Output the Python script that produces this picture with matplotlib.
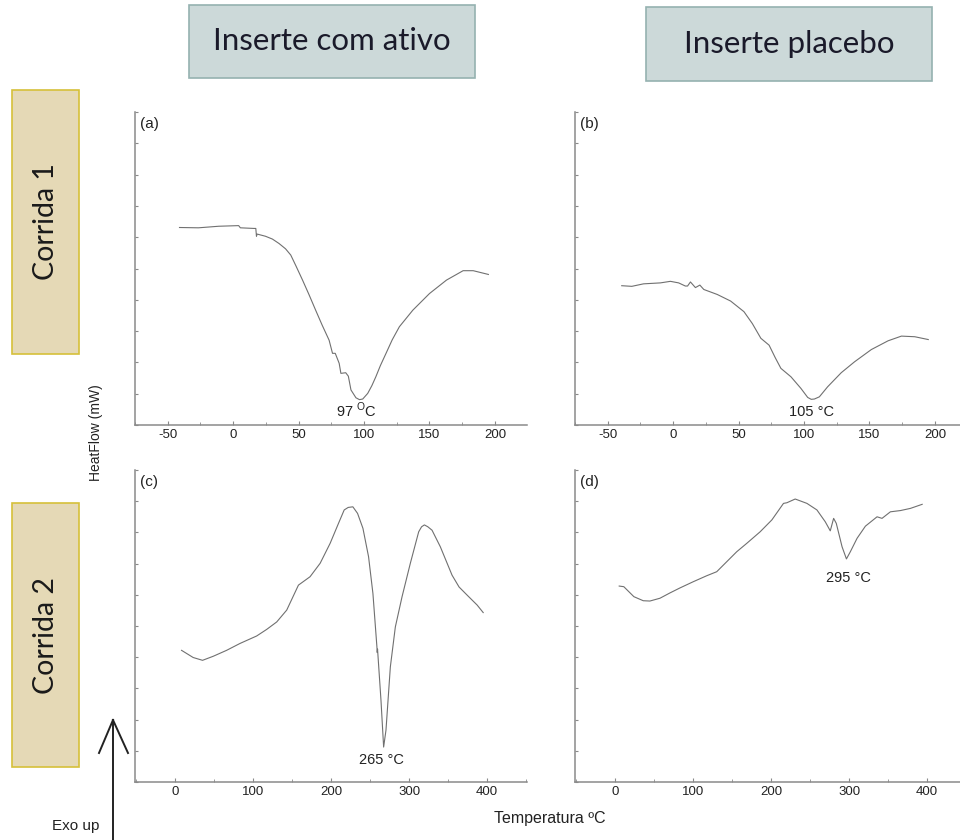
import matplotlib
matplotlib.use("Agg")
import matplotlib.pyplot as plt
from matplotlib.patches import Rectangle
from matplotlib.lines import Line2D
from matplotlib.ticker import MultipleLocator, NullFormatter

plt.rcParams["font.family"] = ["Liberation Sans", "DejaVu Sans"]
plt.rcParams["mathtext.fontset"] = "custom"
plt.rcParams["mathtext.rm"] = "Liberation Sans"
plt.rcParams["axes.unicode_minus"] = False

# (a) Corrida 1, inserte com ativo
a_temp = [-41, -26.5, -11, 4.2, 5.5, 15.8, 17.3, 17.8, 18.3, 24.7, 30, 35, 40, 44,
          48, 53, 58, 63, 68, 73.3, 75.9, 78, 81, 82.3, 86, 88, 90, 93.8, 96.5, 99,
          102.8, 106, 109, 112.5, 116.8, 121.5, 127, 137.3, 150, 163, 175.7, 183.4,
          195]
a_flow = [63.1, 63.0, 63.5, 63.7, 63.0, 62.8, 62.8, 60.3, 61.0, 60.3, 59.4, 58.0,
          56.3, 54.3, 50.8, 46.3, 41.6, 36.7, 31.9, 27.1, 22.9, 22.9, 19.7, 16.5,
          16.7, 15.6, 11.2, 8.7, 8.1, 8.3, 10.1, 12.6, 15.4, 19.0, 22.9, 27.2, 31.4,
          36.7, 42.0, 46.3, 49.3, 49.3, 48.1]

# (b) Corrida 1, inserte placebo
b_temp = [-39.3, -31.6, -22.6, -9.8, -2.1, 4.2, 9.3, 11.0, 13.2, 17, 20.4, 23.4,
          33.7, 43.9, 54.1, 60.5, 67, 73.3, 78, 82.3, 90, 97.6, 102.8, 105.5, 107.9,
          111.7, 118, 128.4, 138.6, 151.4, 164.2, 174.4, 184.6, 194.9]
b_flow = [44.5, 44.3, 45.1, 45.4, 45.9, 45.4, 44.4, 44.4, 45.7, 43.9, 44.7, 43.3,
          41.7, 39.6, 36.2, 32.4, 27.7, 25.5, 21.5, 18.1, 15.4, 11.7, 8.8, 8.2, 8.3,
          9.0, 12.2, 16.7, 20.2, 24.1, 26.9, 28.4, 28.2, 27.3]

# (c) Corrida 2, inserte com ativo
c_temp = [8.6, 23.5, 35.5, 49.2, 66.3, 83.4, 104.8, 117.6, 130.5, 143.3, 158.3,
          173.2, 186.1, 198.9, 209.6, 216.9, 222, 228, 234, 240.9, 248.1, 253.7,
          258.8, 259.2, 259.6, 264, 267.4, 270.4, 276, 282.4, 291, 301.6, 312.3,
          316, 319.6, 324, 329.4, 340, 355, 364, 374.3, 387.2, 394.9]
c_flow = [42.2, 39.9, 39.0, 40.3, 42.2, 44.4, 46.8, 48.9, 51.3, 55.1, 63.1, 65.8,
          70.1, 76.5, 82.9, 87.2, 88.0, 88.2, 86.1, 81.3, 72.2, 60.4, 43.3, 41.5,
          42.6, 26.2, 11.2, 16.6, 36.9, 49.7, 59.4, 70.1, 80.2, 81.8, 82.4, 81.8,
          80.7, 75.4, 66.3, 62.5, 59.9, 56.7, 54.3]

# (d) Corrida 2, inserte placebo
d_temp = [5.6, 11.5, 24.4, 36.4, 44.9, 57.8, 70.6, 83.4, 100.5, 117.6, 130.5,
          143.3, 156.1, 169, 186.1, 201.1, 216, 220.3, 231, 246, 258.8, 269.5,
          275.9, 280.2, 283.6, 291, 296.6, 301.6, 310.2, 320.9, 335.8, 342.2,
          352.9, 365.8, 378.6, 393.6]
d_flow = [62.8, 62.6, 59.4, 58.1, 58.0, 58.9, 60.6, 62.2, 64.2, 66.1, 67.4, 70.6,
          73.8, 76.5, 80.2, 84.0, 89.3, 89.5, 90.7, 89.3, 87.2, 83.4, 80.5, 84.5,
          82.9, 75.4, 71.5, 73.8, 78.1, 82.0, 85.0, 84.5, 86.6, 87.0, 87.7, 89.0]

panels = [
    ("(a)", a_temp, a_flow, "97 $^{\\mathrm{O}}$C", 94.3, 4.8),
    ("(b)", b_temp, b_flow, "105 °C", 105.8, 4.3),
    ("(c)", c_temp, c_flow, "265 °C", 265.2, 7.0),
    ("(d)", d_temp, d_flow, "295 °C", 299.5, 65.5),
]
col_titles = ["Inserte com ativo", "Inserte placebo"]
row_titles = ["Corrida 1", "Corrida 2"]

W, H = 960, 840
fig = plt.figure(figsize=(W / 100, H / 100), dpi=100)


def px_rect(x0, y0, x1, y1):
    # pixel box (top-left origin) -> figure fraction [left, bottom, width, height]
    return [x0 / W, 1 - y1 / H, (x1 - x0) / W, (y1 - y0) / H]


axes_px = [(135, 112, 527, 425), (575, 112, 967, 425),
           (135, 470, 527, 782), (575, 470, 967, 782)]
spine_col = "#8a8a8a"

for i, (box, (lab, xs, ys, note, nx, ny)) in enumerate(zip(axes_px, panels)):
    ax = fig.add_axes(px_rect(*box))
    ax.plot(xs, ys, color="#707070", linewidth=0.8)
    if i < 2:
        ax.set_xlim(-75, 224.5)
        ax.xaxis.set_major_locator(MultipleLocator(50))
        ax.xaxis.set_minor_locator(MultipleLocator(25))
    else:
        ax.set_xlim(-51, 451)
        ax.xaxis.set_major_locator(MultipleLocator(100))
        ax.xaxis.set_minor_locator(MultipleLocator(50))
    ax.set_ylim(0, 100)
    ax.yaxis.set_major_locator(MultipleLocator(10))
    ax.yaxis.set_major_formatter(NullFormatter())
    for s in ("top", "right"):
        ax.spines[s].set_visible(False)
    for s in ("left", "bottom"):
        ax.spines[s].set_color(spine_col)
        ax.spines[s].set_linewidth(1.1)
    ax.tick_params(axis="both", which="both", direction="in", color=spine_col,
                   labelsize=9.5, labelcolor="#222222")
    ax.tick_params(axis="x", which="major", length=3, pad=3)
    ax.tick_params(axis="x", which="minor", length=2)
    ax.tick_params(axis="y", which="major", length=2)
    ax.text(0.012, 0.985, lab, transform=ax.transAxes, ha="left", va="top",
            fontsize=11, color="#222222")
    ax.text(nx, ny, note, ha="center", va="center", fontsize=10.5,
            color="#222222")

# column header boxes
for (x0, y0, x1, y1), title in zip([(189, 5, 475, 78), (646, 7, 932, 81)], col_titles):
    fig.patches.append(Rectangle((x0 / W, 1 - y1 / H), (x1 - x0) / W, (y1 - y0) / H,
                                 transform=fig.transFigure, facecolor="#ccd9d9",
                                 edgecolor="#95b2b0", linewidth=1.2))
    fig.text((x0 + x1) / 2 / W, 1 - (y0 + y1) / 2 / H, title, ha="center",
             va="center", fontsize=22.5, family=["Lato", "DejaVu Sans"],
             color="#1a1a2a")

# row header boxes
for (x0, y0, x1, y1), title in zip([(12, 90, 79, 354), (12, 503, 79, 767)], row_titles):
    fig.patches.append(Rectangle((x0 / W, 1 - y1 / H), (x1 - x0) / W, (y1 - y0) / H,
                                 transform=fig.transFigure, facecolor="#e5d9b6",
                                 edgecolor="#d6c03a", linewidth=1.2))
    fig.text((x0 + x1) / 2 / W, 1 - (y0 + y1) / 2 / H, title, ha="center",
             va="center", rotation=90, fontsize=20.5, family=["Lato", "DejaVu Sans"],
             color="#1a1a1a")

fig.text(96 / W, 1 - 433 / H, "HeatFlow (mW)", rotation=90, ha="center",
         va="center", fontsize=10, color="#222222")
fig.text(550 / W, 1 - 819 / H, "Temperatura ºC", ha="center", va="center",
         fontsize=11.5, color="#222222")
fig.text(76 / W, 1 - 826 / H, "Exo up", ha="center", va="center",
         fontsize=11, color="#222222")

# Exo up arrow
for xa, ya in [([113, 113], [840, 720]), ([99, 113], [753, 720]), ([128, 113], [753, 720])]:
    fig.lines.append(Line2D([v / W for v in xa], [1 - v / H for v in ya],
                            transform=fig.transFigure, color="#222222", linewidth=1.4))

fig.savefig("out.png", dpi=100)
